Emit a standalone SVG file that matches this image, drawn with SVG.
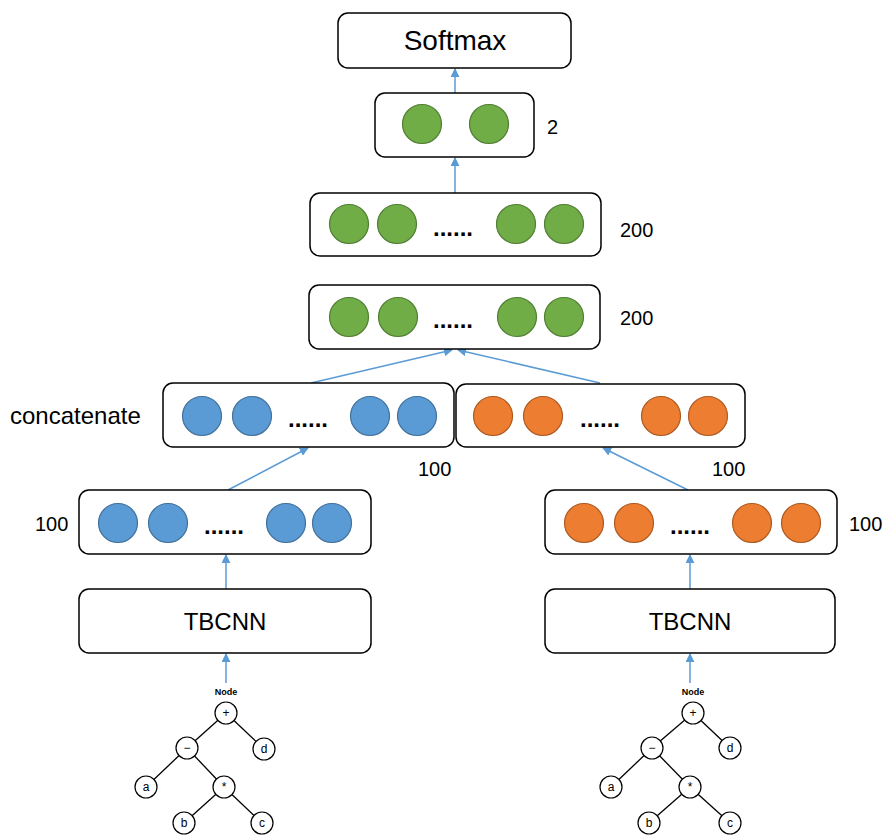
<svg xmlns="http://www.w3.org/2000/svg" width="885" height="837" viewBox="0 0 885 837">
<defs>
<style>
.box{fill:#fff;stroke:#000;stroke-width:1.5}
.g{fill:#70AD47;stroke:#507E32;stroke-width:1.2}
.b{fill:#5B9BD5;stroke:#41719C;stroke-width:1.2}
.o{fill:#ED7D31;stroke:#AE5A21;stroke-width:1.2}
.t{font-family:"Liberation Sans",Arial,sans-serif;fill:#000}
.dots{font-family:"Liberation Sans",Arial,sans-serif;font-size:24px;font-weight:bold;text-anchor:middle}
.lbl{font-family:"Liberation Sans",Arial,sans-serif;font-size:20px}
.conn{stroke:#5B9BD5;stroke-width:1.5;fill:none;marker-end:url(#ah)}
.tn{fill:#fff;stroke:#000;stroke-width:1.2}
.te{stroke:#000;stroke-width:1.3}
.tl{font-family:"Liberation Sans",Arial,sans-serif;font-size:12px;text-anchor:middle}
.nd{font-family:"Liberation Sans",Arial,sans-serif;font-size:9px;font-weight:bold;text-anchor:middle}
</style>
<marker id="ah" viewBox="0 0 10 10" refX="9" refY="5" markerWidth="9" markerHeight="9" markerUnits="userSpaceOnUse" orient="auto">
<path d="M0,0 L10,5 L0,10 z" fill="#5B9BD5"/>
</marker>
</defs>

<g id="connectors">
<line class="conn" x1="455" y1="93" x2="455" y2="69"/>
<line class="conn" x1="455" y1="193" x2="455" y2="158"/>
<line class="conn" x1="311" y1="383" x2="452" y2="350"/>
<line class="conn" x1="600" y1="383" x2="458" y2="350"/>
<line class="conn" x1="228" y1="490" x2="308" y2="448"/>
<line class="conn" x1="688" y1="490" x2="603" y2="448"/>
<line class="conn" x1="226" y1="589" x2="226" y2="555"/>
<line class="conn" x1="690" y1="589" x2="690" y2="555"/>
<line class="conn" x1="226" y1="683" x2="226" y2="654"/>
<line class="conn" x1="690" y1="683" x2="690" y2="654"/>
</g>

<g id="softmax">
<rect class="box" x="338" y="13" width="233" height="55" rx="10"/>
<text class="t" x="455" y="50" font-size="28" text-anchor="middle">Softmax</text>
</g>

<g id="out2">
<rect class="box" x="375" y="93" width="159" height="64" rx="10"/>
<circle class="g" cx="422" cy="124" r="19.5"/>
<circle class="g" cx="489" cy="124" r="19.5"/>
<text class="lbl" x="547" y="134" font-size="19">2</text>
</g>

<g id="dense200b">
<rect class="box" x="310" y="193" width="291" height="63" rx="10"/>
<circle class="g" cx="349" cy="224" r="19.5"/>
<circle class="g" cx="397" cy="224" r="19.5"/>
<text class="dots" x="453" y="236">......</text>
<circle class="g" cx="516" cy="224" r="19.5"/>
<circle class="g" cx="564" cy="224" r="19.5"/>
<text class="lbl" x="620" y="237">200</text>
</g>

<g id="dense200a">
<rect class="box" x="309" y="285" width="291" height="64" rx="10"/>
<circle class="g" cx="349" cy="317" r="19.5"/>
<circle class="g" cx="398" cy="317" r="19.5"/>
<text class="dots" x="453" y="328">......</text>
<circle class="g" cx="517" cy="317" r="19.5"/>
<circle class="g" cx="564" cy="317" r="19.5"/>
<text class="lbl" x="620" y="325">200</text>
</g>

<g id="concatLeft">
<rect class="box" x="163" y="383" width="291" height="64" rx="10"/>
<circle class="b" cx="202" cy="416" r="19.5"/>
<circle class="b" cx="252" cy="416" r="19.5"/>
<text class="dots" x="308" y="427">......</text>
<circle class="b" cx="370" cy="416" r="19.5"/>
<circle class="b" cx="417" cy="416" r="19.5"/>
<text class="t" x="10" y="424" font-size="24">concatenate</text>
<text class="lbl" x="418" y="476">100</text>
</g>

<g id="concatRight">
<rect class="box" x="456" y="384" width="289" height="63" rx="10"/>
<circle class="o" cx="493" cy="416" r="19.5"/>
<circle class="o" cx="543" cy="416" r="19.5"/>
<text class="dots" x="600" y="427">......</text>
<circle class="o" cx="661" cy="416" r="19.5"/>
<circle class="o" cx="708" cy="416" r="19.5"/>
<text class="lbl" x="712" y="476">100</text>
</g>

<g id="vecLeft">
<rect class="box" x="79" y="490" width="292" height="64" rx="10"/>
<circle class="b" cx="118" cy="523" r="19.5"/>
<circle class="b" cx="168" cy="523" r="19.5"/>
<text class="dots" x="224" y="534">......</text>
<circle class="b" cx="286" cy="523" r="19.5"/>
<circle class="b" cx="332" cy="523" r="19.5"/>
<text class="lbl" x="35" y="531">100</text>
</g>

<g id="vecRight">
<rect class="box" x="545" y="490" width="292" height="64" rx="10"/>
<circle class="o" cx="584" cy="523" r="19.5"/>
<circle class="o" cx="634" cy="523" r="19.5"/>
<text class="dots" x="690" y="534">......</text>
<circle class="o" cx="752" cy="523" r="19.5"/>
<circle class="o" cx="801" cy="523" r="19.5"/>
<text class="lbl" x="849" y="531">100</text>
</g>

<g id="tbcnnLeft">
<rect class="box" x="79" y="589" width="292" height="64" rx="10"/>
<text class="t" x="225" y="630" font-size="24" text-anchor="middle">TBCNN</text>
</g>

<g id="tbcnnRight">
<rect class="box" x="545" y="589" width="290" height="64" rx="10"/>
<text class="t" x="690" y="630" font-size="24" text-anchor="middle">TBCNN</text>
</g>

<g id="treeLeft">
<text class="nd" x="226" y="695">Node</text>
<line class="te" x1="226" y1="713" x2="187" y2="748"/>
<line class="te" x1="226" y1="713" x2="264" y2="749"/>
<line class="te" x1="187" y1="748" x2="146" y2="787"/>
<line class="te" x1="187" y1="748" x2="224" y2="787"/>
<line class="te" x1="224" y1="787" x2="184" y2="823"/>
<line class="te" x1="224" y1="787" x2="262" y2="823"/>
<circle class="tn" cx="226" cy="713" r="11"/><text class="tl" x="226" y="717">+</text>
<circle class="tn" cx="187" cy="748" r="11"/><text class="tl" x="187" y="752">−</text>
<circle class="tn" cx="264" cy="749" r="11"/><text class="tl" x="264" y="753">d</text>
<circle class="tn" cx="146" cy="787" r="11"/><text class="tl" x="146" y="791">a</text>
<circle class="tn" cx="224" cy="787" r="11"/><text class="tl" x="224" y="791">*</text>
<circle class="tn" cx="184" cy="823" r="11"/><text class="tl" x="184" y="827">b</text>
<circle class="tn" cx="262" cy="823" r="11"/><text class="tl" x="262" y="827">c</text>
</g>

<g id="treeRight">
<text class="nd" x="693" y="695">Node</text>
<line class="te" x1="693" y1="713" x2="652" y2="748"/>
<line class="te" x1="693" y1="713" x2="730" y2="748"/>
<line class="te" x1="652" y1="748" x2="611" y2="787"/>
<line class="te" x1="652" y1="748" x2="690" y2="787"/>
<line class="te" x1="690" y1="787" x2="649" y2="823"/>
<line class="te" x1="690" y1="787" x2="730" y2="823"/>
<circle class="tn" cx="693" cy="713" r="11"/><text class="tl" x="693" y="717">+</text>
<circle class="tn" cx="652" cy="748" r="11"/><text class="tl" x="652" y="752">−</text>
<circle class="tn" cx="730" cy="748" r="11"/><text class="tl" x="730" y="752">d</text>
<circle class="tn" cx="611" cy="787" r="11"/><text class="tl" x="611" y="791">a</text>
<circle class="tn" cx="690" cy="787" r="11"/><text class="tl" x="690" y="791">*</text>
<circle class="tn" cx="649" cy="823" r="11"/><text class="tl" x="649" y="827">b</text>
<circle class="tn" cx="730" cy="823" r="11"/><text class="tl" x="730" y="827">c</text>
</g>
</svg>
